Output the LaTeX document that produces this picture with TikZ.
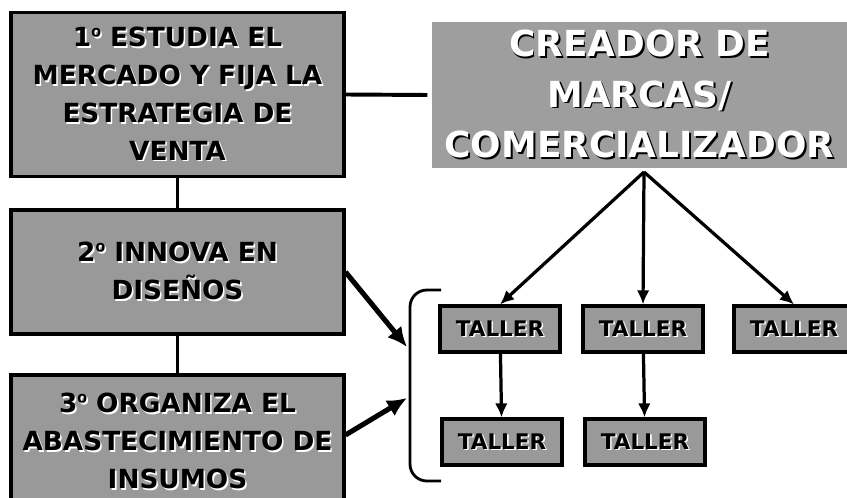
\documentclass[tikz,border=0pt]{standalone}
\usepackage{fontspec}
\setmainfont{DejaVu Sans}
\newfontfamily\lib{Liberation Sans}
\usetikzlibrary{arrows.meta}
\newcommand{\ord}{{\lib º}}
\newcommand{\blk}[1]{\makebox[0pt][l]{\hspace{1.1pt}\raisebox{-1.1pt}{\color{white}#1}}#1}
\newcommand{\wht}[1]{\makebox[0pt][l]{\hspace{1.3pt}\raisebox{-1.3pt}{#1}}{\color{white}#1}}
\begin{document}
\begin{tikzpicture}[x=0.025cm,y=-0.025cm,
	paso/.style={draw,line width=2.8pt,fill=black!40,minimum width=8.3cm,align=center,inner sep=0pt,font=\fontsize{18.7}{27}\selectfont\bfseries},
	taller/.style={draw,line width=2.2pt,fill=black!40,minimum width=3cm,minimum height=1.15cm,inner sep=0pt,font=\fontsize{15.3}{18}\selectfont\bfseries},
	flecha/.style={-{Latex[length=10pt,width=9pt]},line width=2.3pt},
	gruesa/.style={-{Latex[length=14pt,width=13pt]},line width=3.6pt}]
	\useasboundingbox (0,0) rectangle (847,498);
	\clip (0,0) rectangle (847,498);
	\node[paso,minimum height=4.1cm] (p1) at (177.5,94.5) {\blk{1\ord{} ESTUDIA EL}\\\blk{MERCADO Y FIJA LA}\\\blk{ESTRATEGIA DE}\\\blk{VENTA}};
	\node[paso,minimum height=3.1cm] (p2) at (177.5,272) {\blk{2\ord{} INNOVA EN}\\\blk{DISEÑOS}};
	\node[paso,minimum height=3.35cm] (p3) at (177.5,442) {\blk{3\ord{} ORGANIZA EL}\\\blk{ABASTECIMIENTO DE}\\\blk{INSUMOS}};
	\node[fill=black!38,minimum width=10.375cm,minimum height=3.65cm,inner sep=0pt,align=center,font=\fontsize{25.5}{36}\selectfont\bfseries] (cre) at (639.5,95) {\wht{CREADOR DE}\\\wht{MARCAS/}\\\wht{COMERCIALIZADOR}};
	\node[taller] (t1) at (500,329) {\blk{TALLER}};
	\node[taller] (t2) at (643,329) {\blk{TALLER}};
	\node[taller] (t3) at (794,329) {\blk{TALLER}};
	\node[taller] (t4) at (502,442) {\blk{TALLER}};
	\node[taller] (t5) at (645,442) {\blk{TALLER}};
	\draw[line width=2.8pt] (p1.east) -- ([xshift=-3pt]cre.west);
	\draw[line width=2.2pt] (p1) -- (p2);
	\draw[line width=2.2pt] (p2) -- (p3);
	\coordinate (apex) at (644,172);
	\draw[flecha] (apex) -- (t1.north);
	\draw[flecha] (apex) -- (t2.north);
	\draw[flecha] (apex) -- (t3.north);
	\draw[flecha] (t1) -- (t4);
	\draw[flecha] (t2) -- (t5);
	\draw[line width=2pt,rounded corners=12pt] (441,290) -- (410,290) -- (410,481) -- (441,481);
	\coordinate (llaveA) at (407,347);
	\coordinate (llaveB) at (407,398);
	\draw[gruesa] (p2.east) -- (llaveA);
	\draw[gruesa] ([yshift=5pt]p3.east) -- (llaveB);
\end{tikzpicture}
\end{document}
